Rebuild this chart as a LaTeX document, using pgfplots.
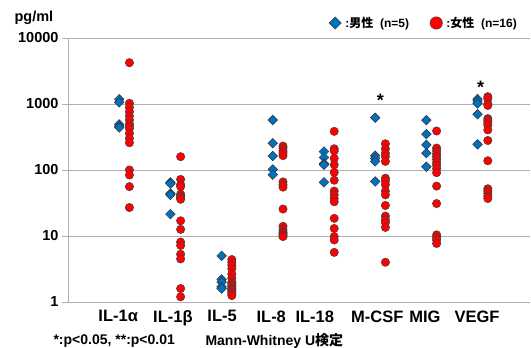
\documentclass[border=0pt]{standalone}
\usepackage{fontspec}
\setmainfont{Liberation Sans}
\newfontfamily\jp{Noto Sans CJK JP}
\usepackage{pgfplots}
\pgfplotsset{compat=1.18}
\definecolor{mblue}{RGB}{0,112,192}
\definecolor{gridgray}{RGB}{175,175,175}
\begin{document}
\begin{tikzpicture}[x=1pt,y=1pt]
\path[use as bounding box] (0,0) rectangle (531,348);
\begin{axis}[
  at={(68pt,46pt)}, anchor=south west,
  scale only axis, width=462pt, height=264pt,
  ymode=log, ymin=1, ymax=10000,
  xmin=-1.1, xmax=7.924,
  axis x line*=bottom, axis y line*=left,
  axis line style={gridgray, line width=0.8pt, -},
  ytick={1,10,100,1000,10000}, yticklabels={1,10,100,1000,10000},
  yminorticks=false,
  ymajorgrids, grid style={gridgray, line width=0.8pt},
  tick align=outside, major tick length=6pt,
  ytick style={gridgray, line width=0.8pt},
  xtick={-0.12,0.95,1.91,2.87,3.72,4.94,5.87,6.89},
  xticklabels={IL-1α,IL-1β,IL-5,IL-8,IL-18,M-CSF,MIG,VEGF},
  xtick style={draw=none},
  yticklabel style={font=\bfseries\fontsize{14.5}{16}\selectfont},
  xticklabel style={font=\bfseries\fontsize{16.5}{18}\selectfont, yshift=1pt},
  legend columns=2,
  legend style={at={(axis description cs:1,1)}, anchor=east, xshift=-8pt, yshift=15pt,
    draw=none, fill=none, font=\bfseries\fontsize{12}{14}\selectfont,
    /tikz/every even column/.append style={column sep=19pt}},
]
% male
\addplot[only marks, mark=square*, mark size=3.4pt, mark options={rotate=45, fill=mblue, draw=black!80, line width=0.5pt}, forget plot] coordinates {
(-0.1,1180) (-0.1,1060) (-0.1,490) (-0.1,460) (-0.1,440)
(0.9,65) (0.9,62) (0.9,44) (0.9,42) (0.9,21.5)
(1.9,5.0) (1.9,2.2) (1.9,2.0) (1.9,1.7) (1.9,1.6)
(2.9,572) (2.9,254) (2.9,163) (2.9,102) (2.9,85)
(3.9,190) (3.9,155) (3.9,125) (3.9,120) (3.9,65)
(4.9,620) (4.9,165) (4.9,150) (4.9,135) (4.9,67)
(5.9,570) (5.9,350) (5.9,240) (5.9,180) (5.9,112)
(6.9,1190) (6.9,1110) (6.9,1020) (6.9,700) (6.9,245)
};
% female
\addplot[only marks, mark=*, mark size=4.2pt, mark options={fill=red, draw=black!75, line width=0.5pt}, forget plot] coordinates {
(0.1,4225) (0.1,1025) (0.1,890) (0.1,764) (0.1,658) (0.1,572) (0.1,497) (0.1,460) (0.1,423) (0.1,360) (0.1,302) (0.1,259) (0.1,100) (0.1,84) (0.1,56) (0.1,27)
(1.1,159) (1.1,72) (1.1,60) (1.1,56) (1.1,43) (1.1,40) (1.1,38) (1.1,36) (1.1,17) (1.1,12.6) (1.1,8.1) (1.1,7.2) (1.1,5.3) (1.1,4.5) (1.1,1.6) (1.1,1.2)
(2.1,4.4) (2.1,4.0) (2.1,3.6) (2.1,3.2) (2.1,2.65) (2.1,2.3) (2.1,2.0) (2.1,1.92) (2.1,1.8) (2.1,1.7) (2.1,1.6) (2.1,1.55) (2.1,1.48) (2.1,1.4) (2.1,1.31) (2.1,1.25)
(3.1,230) (3.1,215) (3.1,195) (3.1,180) (3.1,165) (3.1,66) (3.1,60) (3.1,55) (3.1,25.6) (3.1,14) (3.1,12.5) (3.1,11.5) (3.1,11) (3.1,10.5) (3.1,10) (3.1,9.8)
(4.1,385) (4.1,210) (4.1,195) (4.1,150) (4.1,120) (4.1,92) (4.1,70) (4.1,48) (4.1,42) (4.1,37) (4.1,33) (4.1,18.5) (4.1,13) (4.1,9.8) (4.1,8.7) (4.1,5.65)
(5.1,250) (5.1,210) (5.1,180) (5.1,160) (5.1,135) (5.1,75) (5.1,68) (5.1,60) (5.1,48) (5.1,42) (5.1,29) (5.1,20) (5.1,17.5) (5.1,16) (5.1,13.5) (5.1,4.0)
(6.1,390) (6.1,215) (6.1,195) (6.1,175) (6.1,160) (6.1,145) (6.1,130) (6.1,118) (6.1,105) (6.1,91) (6.1,57) (6.1,31) (6.1,10.4) (6.1,9.5) (6.1,8.7) (6.1,7.7)
(7.1,1290) (7.1,1200) (7.1,1000) (7.1,950) (7.1,600) (7.1,560) (7.1,520) (7.1,480) (7.1,405) (7.1,280) (7.1,138) (7.1,52) (7.1,48) (7.1,44) (7.1,40) (7.1,37)
};
\addlegendimage{only marks, mark=square*, mark size=4.3pt, mark options={rotate=45, fill=mblue, draw=black!80, line width=0.5pt}}
\addlegendentry{\hspace{2pt}:{\jp 男性}\ \ (n=5)}
\addlegendimage{only marks, mark=*, mark size=6.2pt, mark options={fill=red, draw=black!75, line width=0.5pt}}
\addlegendentry{\hspace{2pt}:{\jp 女性}\ \ (n=16)}
\node[anchor=base, font=\bfseries\fontsize{18}{20}\selectfont] at (axis cs:5,920) {*};
\node[anchor=base, font=\bfseries\fontsize{18}{20}\selectfont] at (axis cs:6.96,1432) {*};
\end{axis}
\node[anchor=west, font=\bfseries\fontsize{14.5}{16}\selectfont] at (11,330) {pg/ml};
\node[anchor=west, font=\bfseries\fontsize{14}{16}\selectfont] at (50,7) {*:p<0.05, **:p<0.01};
\node[anchor=west, font=\bfseries\fontsize{14}{16}\selectfont] at (202,7) {Mann-Whitney U{\jp 検定}};
\end{tikzpicture}
\end{document}
